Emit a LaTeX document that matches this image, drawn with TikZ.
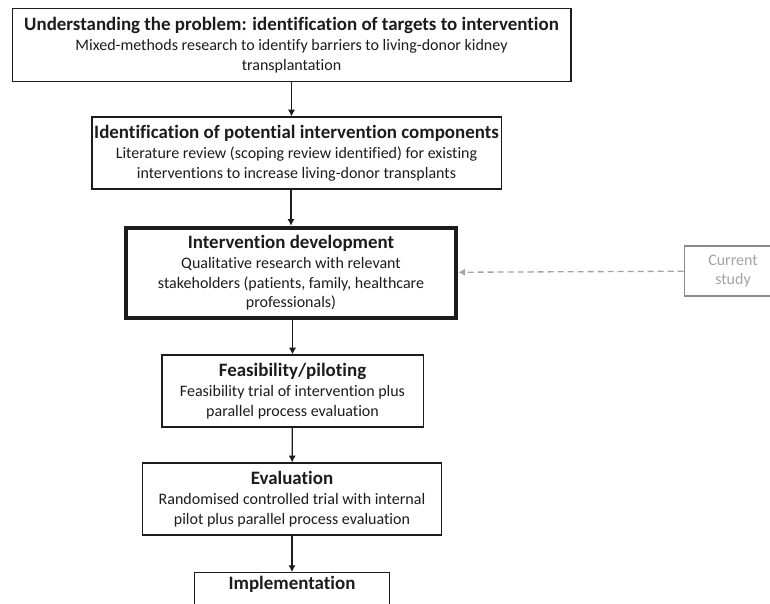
\documentclass[tikz,border=0pt]{standalone}
\usepackage{fontspec}
\usetikzlibrary{arrows.meta}
\setmainfont{Carlito}[Ligatures=NoCommon]
\definecolor{ink}{HTML}{1C1C1C}
\definecolor{faint}{HTML}{A3A3A3}
\newcommand{\stagehead}[1]{{\fontsize{14.2}{15}\bfseries #1}}

\begin{document}
\begin{tikzpicture}[x=0.75pt,y=-0.75pt,
        stage/.style={draw=ink,line width=1pt,fill=white,align=center,text=ink,
            font=\fontsize{12}{14.8}\selectfont,inner sep=1pt},
        flow/.style={-{Latex[length=5pt,width=5.5pt]},line width=1pt,ink}]
        \useasboundingbox (0,0) rectangle (770,603);
        \clip (0,0) rectangle (770,603);

        \node[stage,minimum width=419pt,minimum height=55pt](problem) at (291.5,45)
            {\stagehead{Understanding the problem: identification of targets to intervention}\\
             Mixed-methods research to identify barriers to living-donor kidney\\
             transplantation};
        \node[stage,minimum width=307pt,minimum height=54pt](components) at (296.5,153)
            {\stagehead{Identification of potential intervention components}\\
             Literature review (scoping review identified) for existing\\
             interventions to increase living-donor transplants};
        \node[stage,line width=3pt,minimum width=248pt,minimum height=68pt](develop) at (291,273)
            {\stagehead{Intervention development}\\
             Qualitative research with relevant\\
             stakeholders (patients, family, healthcare\\
             professionals)};
        \node[stage,minimum width=196pt,minimum height=54pt](pilot) at (292.5,391)
            {\stagehead{Feasibility/piloting}\\
             Feasibility trial of intervention plus\\
             parallel process evaluation};
        \node[stage,minimum width=224pt,minimum height=54pt](evaluate) at (292,499)
            {\stagehead{Evaluation}\\
             Randomised controlled trial with internal\\
             pilot plus parallel process evaluation};
        \node[stage,anchor=north,minimum width=146pt,minimum height=50pt](implement) at (292,572)
            {\stagehead{Implementation}\\ \strut\\ \strut};
        \node[stage,draw=faint!85!black,text=faint,minimum width=73pt,minimum height=37.5pt](current) at (733,271)
            {Current\\study};

        \draw[flow](problem)--(problem |- components.north);
        \draw[flow](components.south -| develop)--(develop);
        \draw[flow](develop.south -| pilot)--(pilot);
        \draw[flow](pilot)--(evaluate);
        \draw[flow](evaluate)--(implement);
        \draw[flow,faint,dash pattern=on 4.5pt off 3pt](current)--(develop);
    \end{tikzpicture}
\end{document}
